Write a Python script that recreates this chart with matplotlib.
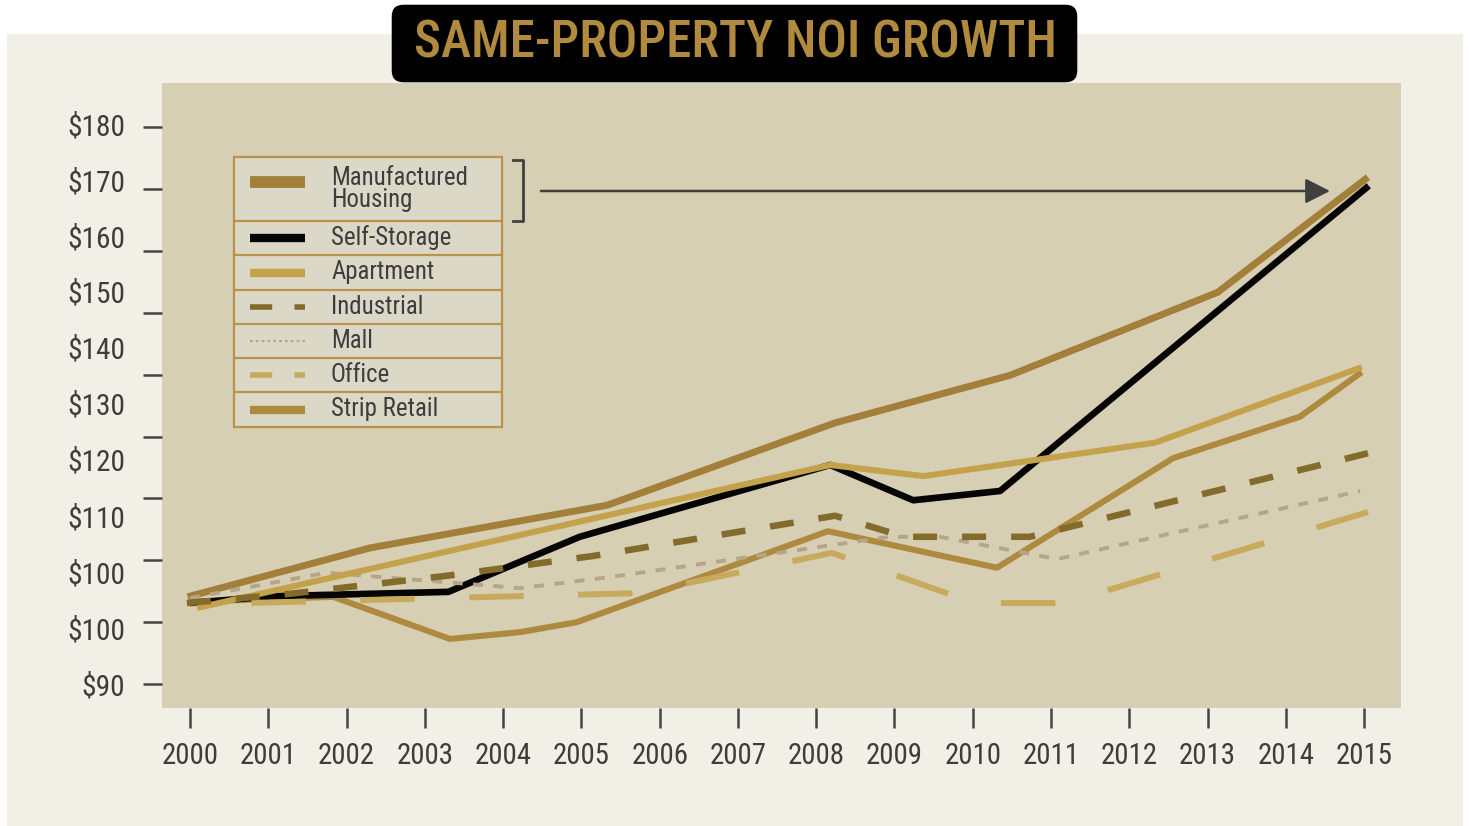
import matplotlib
matplotlib.use('Agg')
import matplotlib.pyplot as plt
import numpy as np
from matplotlib import font_manager
from matplotlib.patches import Rectangle, FancyBboxPatch
from matplotlib.lines import Line2D

# ---- data (index values) ----
years = list(range(2000, 2016))
y_ticks = [180, 170, 160, 150, 140, 130, 120, 110, 100, 90]
y_labels = ['$180', '$170', '$160', '$150', '$140', '$130', '$120', '$110', '$100', '$100', '$90']

mh_x = [1999.97, 2002.30, 2005.33, 2008.24, 2010.48, 2013.13, 2015.05]
mh_y = [104.1, 112.0, 118.9, 132.2, 139.9, 153.3, 171.9]

ss_x = [2000.0, 2001.06, 2003.30, 2004.98, 2008.18, 2009.24, 2010.35, 2015.06]
ss_y = [103.1, 104.2, 104.9, 113.8, 125.4, 119.7, 121.2, 170.5]

ap_x = [2000.09, 2008.18, 2009.37, 2012.33, 2014.97]
ap_y = [102.3, 125.4, 123.6, 129.0, 141.2]

in_x = [1999.96, 2001.28, 2003.28, 2005.15, 2008.24, 2009.13, 2010.73, 2015.05]
in_y = [103.1, 104.6, 107.5, 110.7, 117.2, 113.8, 113.8, 127.3]

ml_x = [2000.0, 2001.75, 2004.22, 2005.37, 2008.94, 2009.58, 2011.08, 2014.95]
ml_y = [103.9, 108.0, 105.5, 107.3, 113.8, 113.8, 110.2, 121.2]

of_x = [2000.09, 2005.75, 2008.20, 2010.03, 2011.18, 2015.05]
of_y = [102.9, 104.7, 111.2, 103.1, 103.1, 117.8]

sr_x = [2000.0, 2001.83, 2003.32, 2004.22, 2004.94, 2008.15, 2010.31, 2012.56, 2014.18, 2014.97]
sr_y = [103.3, 104.1, 97.3, 98.4, 100.0, 114.7, 108.8, 126.5, 133.2, 140.4]

# ---- fonts: try to find a condensed face ----
names = {f.name for f in font_manager.fontManager.ttflist}
dv_cond = any(f.name == 'DejaVu Sans' and 'Condensed' in f.fname for f in font_manager.fontManager.ttflist)
if 'Liberation Sans Narrow' in names:
    FONT = dict(family='Liberation Sans Narrow')
elif 'Roboto Condensed' in names:
    FONT = dict(family='Roboto Condensed')
elif dv_cond:
    FONT = dict(family='DejaVu Sans', stretch='condensed')
else:
    FONT = dict(family='DejaVu Sans')

plt.rcParams['lines.scale_dashes'] = False

W, H = 1469, 826
fig = plt.figure(figsize=(W / 100, H / 100), dpi=100)
fig.patch.set_facecolor('white')
renderer = fig.canvas.get_renderer()


def size_for(s, target_px, base=20):
    t = fig.text(0, 0, s, fontsize=base, **FONT)
    w = t.get_window_extent(renderer).width
    t.remove()
    return base * target_px / w


# light panel behind everything
fig.patches.append(Rectangle((7 / W, 0), (1463 - 7) / W, 1 - 34 / H,
                             transform=fig.transFigure, facecolor='#f2efe6',
                             edgecolor='none', zorder=-5))

# title box
fig.patches.append(FancyBboxPatch((402 / W, 1 - 72 / H), (1067 - 402) / W, (72 - 15) / H,
                                  boxstyle='round,pad=0.007,rounding_size=0.008',
                                  transform=fig.transFigure, facecolor='black',
                                  edgecolor='none', zorder=1, mutation_aspect=W / H))
fig.text(735 / W, 1 - 44 / H, 'SAME-PROPERTY NOI GROWTH', ha='center', va='center',
         color='#b08a3e', fontsize=size_for('SAME-PROPERTY NOI GROWTH', 634),
         weight='medium', zorder=3, **FONT)

L, R, T, B = 162, 1401, 83, 708
ax = fig.add_axes([L / W, 1 - B / H, (R - L) / W, (B - T) / H])
ax.set_zorder(2)
ax.set_facecolor('#d7cfb3')
for s in ax.spines.values():
    s.set_visible(False)
ax.set_xlim(1999.642, 2015.472)
ax.set_ylim(86.14, 187.11)


def axx(px):
    return (px - L) / (R - L)


def axy(py):
    return (B - py) / (B - T)


# series
ax.plot(sr_x, sr_y, color='#ae8a3f', lw=4.4, solid_capstyle='butt', zorder=2)
ax.plot(mh_x, mh_y, color='#a47f39', lw=5.0, solid_capstyle='butt', zorder=3)
ax.plot(ss_x, ss_y, color='#050505', lw=4.8, solid_capstyle='butt', zorder=4)
ax.plot(ml_x, ml_y, color='#b5a689', lw=2.8, linestyle=(0, (7.2, 7.5)),
        dash_capstyle='butt', zorder=5)
ax.plot(ap_x, ap_y, color='#c4a24b', lw=4.4, solid_capstyle='butt', zorder=6)
ax.plot(of_x, of_y, color='#c8aa5e', lw=4.3, linestyle=(39.2, (39.2, 39.2)),
        dash_capstyle='butt', zorder=6)
ax.plot(in_x, in_y, color='#836b2b', lw=4.7, linestyle=(0, (17.3, 18.0)),
        dash_capstyle='butt', zorder=7)

# ticks
ax.set_xticks(years)
ax.set_xticklabels([str(y) for y in years])
ax.set_yticks(y_ticks)
ax.set_yticklabels([])
tick_fs = size_for('2015', 57)
ax.tick_params(axis='x', length=14.4, width=1.8, color='#444444', pad=10,
               labelsize=tick_fs, labelcolor='#3d3d3d')
ax.tick_params(axis='y', length=13.7, width=1.8, color='#444444')
for t in ax.get_xticklabels():
    t.set_fontfamily(FONT['family'])
    if 'stretch' in FONT:
        t.set_fontstretch(FONT['stretch'])

# y labels are spread evenly, not on the ticks
ylab_fs = size_for('$180', 58)
for lab, py in zip(y_labels, np.linspace(127, 687, len(y_labels))):
    ax.text(axx(125), axy(py), lab, transform=ax.transAxes, ha='right', va='center',
            fontsize=ylab_fs, color='#3d3d3d', clip_on=False, **FONT)

# legend table
rows = [157, 221, 255, 290, 324, 358, 392, 427]
ax.add_patch(Rectangle((axx(234), axy(427)), axx(502) - axx(234), axy(157) - axy(427),
                       transform=ax.transAxes, facecolor='#dcd8c8', edgecolor='#b8944a',
                       lw=1.6, zorder=10))
for py in rows[1:-1]:
    ax.add_line(Line2D([axx(234), axx(502)], [axy(py), axy(py)], transform=ax.transAxes,
                       color='#b8944a', lw=1.6, zorder=11))

leg_names = ['Manufactured\nHousing', 'Self-Storage', 'Apartment', 'Industrial', 'Mall',
             'Office', 'Strip Retail']
leg_styles = [
    dict(color='#a47f39', lw=8.5),
    dict(color='#050505', lw=6.0),
    dict(color='#c4a24b', lw=6.0),
    dict(color='#836b2b', lw=4.0, linestyle=(0, (16, 16))),
    dict(color='#b5a689', lw=1.6, linestyle=(0, (2, 2.2))),
    dict(color='#c8aa5e', lw=4.0, linestyle=(0, (16, 16))),
    dict(color='#ae8a3f', lw=6.0),
]
leg_fs = size_for('Self-Storage', 120)
for i, (name, st) in enumerate(zip(leg_names, leg_styles)):
    yc = (rows[i] + rows[i + 1]) / 2
    if i == 0:
        yc = 182
    ax.add_line(Line2D([axx(250), axx(305)], [axy(yc), axy(yc)], transform=ax.transAxes,
                       solid_capstyle='butt', dash_capstyle='butt', zorder=12, **st))
    ty = (rows[i] + rows[i + 1]) / 2
    ax.text(axx(331), axy(ty), name, transform=ax.transAxes, ha='left', va='center',
            fontsize=leg_fs, color='#3d3d3d', linespacing=0.85, zorder=13, **FONT)

# bracket and arrow
ax.add_line(Line2D([axx(513), axx(523), axx(523), axx(513)],
                   [axy(160), axy(160), axy(221), axy(221)], transform=ax.transAxes,
                   color='#404040', lw=2.0, zorder=12))
ax.annotate('', xy=(axx(1330), axy(191)), xytext=(axx(541), axy(191)),
            xycoords='axes fraction', textcoords='axes fraction',
            arrowprops=dict(arrowstyle='-|>,head_length=0.75,head_width=0.38',
                            mutation_scale=20, color='#3f3f3f', lw=1.8,
                            shrinkA=0, shrinkB=0), zorder=12)

fig.savefig('out.png', dpi=100, facecolor=fig.get_facecolor())
